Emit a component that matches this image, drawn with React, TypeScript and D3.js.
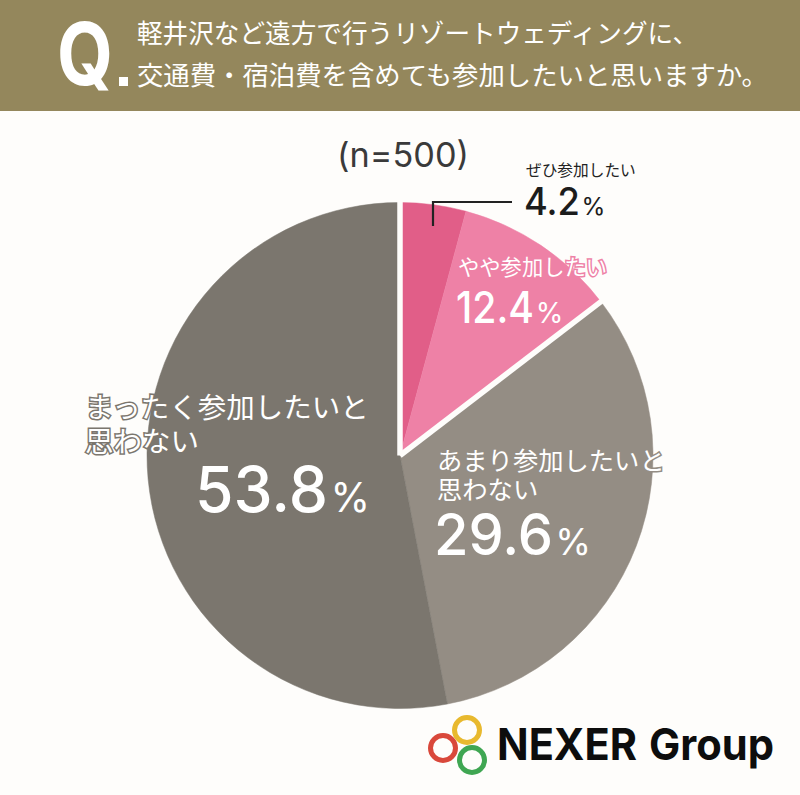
import { useMemo } from "react";
import * as d3 from "d3";

const width = 800;
const height = 795;

// answer labels and the percentages printed on the chart
const categories = ["ぜひ参加したい", "やや参加したい", "あまり参加したいと思わない", "まったく参加したいと思わない"];
const printedValues = [4.2, 12.4, 29.6, 53.8];
// slice sizes as drawn in the picture, they differ a little from the printed numbers
const drawnShares = [4.2, 10.4, 32.4, 53.0];
const sliceColors = ["#e15e88", "#ee81a6", "#948d84", "#7b766e"];

const questionLines = [
  "軽井沢など遠方で行うリゾートウェディングに、",
  "交通費・宿泊費を含めても参加したいと思いますか。",
];
const sampleLabel = "(n=500)";
const logoRings = ["#e8b92e", "#d9483b", "#3fa652"];

const jpFont = "'Noto Sans CJK JP', sans-serif";
const numFont = "Inter, 'Noto Sans', sans-serif";

function Pct({ x, y, value, size, fill, digitsWidth }: { x: number; y: number; value: number; size: number; fill: string; digitsWidth: number }) {
  const pctSize = size * 0.64;
  return (
    <g fill={fill} fontFamily={numFont}>
      <text x={x} y={y} fontWeight={500} fontSize={size} textLength={digitsWidth} lengthAdjust="spacingAndGlyphs">
        {value.toFixed(1)}
      </text>
      <text x={x + digitsWidth + size * 0.04} y={y} fontWeight={400} fontSize={pctSize}>%</text>
    </g>
  );
}

export default function App() {
  const cx = 400;
  const cy = 455.5;
  const radius = 253;

  const arcs = useMemo(() => {
    const pie = d3.pie<number>().sort(null).value((d) => d);
    return pie(drawnShares);
  }, []);
  const arcGen = d3.arc<d3.PieArcDatum<number>>().innerRadius(0).outerRadius(radius);

  // white separators: top of the pie and the pink/grey boundary
  const sepAngles = [0, arcs[1].endAngle];

  return (
    <svg
      width={width}
      height={height}
      viewBox={`0 0 ${width} ${height}`}
      style={{ position: "absolute", left: 0, top: 0, display: "block" }}
    >
      <rect width={width} height={height} fill="#fefdfb" />
      <rect width={width} height={111} fill="#94875c" />

      <text x={57} y={85} fill="#fff" fontFamily={numFont} fontWeight={700} fontSize={86} textLength={56} lengthAdjust="spacingAndGlyphs">Q</text>
      <rect x={119} y={77} width={9} height={9} fill="#fff" />
      <text x={137} y={43} fill="#fff" fontFamily={jpFont} fontSize={26} textLength={561} lengthAdjust="spacingAndGlyphs">{questionLines[0]}</text>
      <text x={137} y={85} fill="#fff" fontFamily={jpFont} fontSize={26} textLength={631} lengthAdjust="spacingAndGlyphs">{questionLines[1]}</text>

      <text x={337} y={167} fill="#3a3a3a" fontFamily={numFont} fontSize={34} textLength={132} lengthAdjust="spacingAndGlyphs">{sampleLabel}</text>

      <g transform={`translate(${cx},${cy})`}>
        {arcs.map((a, i) => (
          <path key={categories[i]} d={arcGen(a) ?? ""} fill={sliceColors[i]} stroke={sliceColors[i]} strokeWidth={0.5} />
        ))}
        {sepAngles.map((ang) => (
          <line
            key={ang}
            x1={0}
            y1={0}
            x2={Math.sin(ang) * (radius + 3)}
            y2={-Math.cos(ang) * (radius + 3)}
            stroke="#fefdfb"
            strokeWidth={5.5}
          />
        ))}
      </g>

      <path d="M433,226 V202 H512" fill="none" stroke="#222" strokeWidth={2.2} />
      <text x={526} y={176} fill="#222" fontFamily={jpFont} fontSize={15.7}>{categories[0]}</text>
      <Pct x={524} y={215} value={printedValues[0]} size={38} fill="#1c1c1c" digitsWidth={56} />

      <text x={458} y={275} fill="#fff" fontFamily={jpFont} fontSize={21.3} stroke="#ee81a6" strokeWidth={3} paintOrder="stroke">{categories[1]}</text>
      <Pct x={456} y={323} value={printedValues[1]} size={44} fill="#fff" digitsWidth={78} />

      <text fill="#fff" fontFamily={jpFont} fontSize={25.3} stroke="#948d84" strokeWidth={3} paintOrder="stroke">
        <tspan x={437} y={470}>あまり参加したいと</tspan>
        <tspan x={437} y={499}>思わない</tspan>
      </text>
      <Pct x={434} y={555} value={printedValues[2]} size={57} fill="#fff" digitsWidth={119} />

      <text fill="#fff" fontFamily={jpFont} fontSize={28.5} stroke="#7b766e" strokeWidth={3} paintOrder="stroke">
        <tspan x={85} y={418}>まったく参加したいと</tspan>
        <tspan x={85} y={452}>思わない</tspan>
      </text>
      <Pct x={195} y={512} value={printedValues[3]} size={63} fill="#fff" digitsWidth={133} />

      <circle cx={467} cy={730} r={12.5} fill="none" stroke={logoRings[0]} strokeWidth={5} />
      <circle cx={443} cy={748} r={12.5} fill="none" stroke={logoRings[1]} strokeWidth={5} />
      <circle cx={472} cy={760} r={12.5} fill="none" stroke={logoRings[2]} strokeWidth={5} />
      <text x={497} y={760} fill="#0d0d0d" fontFamily={numFont} fontWeight={700} fontSize={44} textLength={140} lengthAdjust="spacingAndGlyphs">NEXER</text>
      <text x={649} y={760} fill="#0d0d0d" fontFamily={numFont} fontWeight={700} fontSize={44} textLength={125} lengthAdjust="spacingAndGlyphs">Group</text>
    </svg>
  );
}
